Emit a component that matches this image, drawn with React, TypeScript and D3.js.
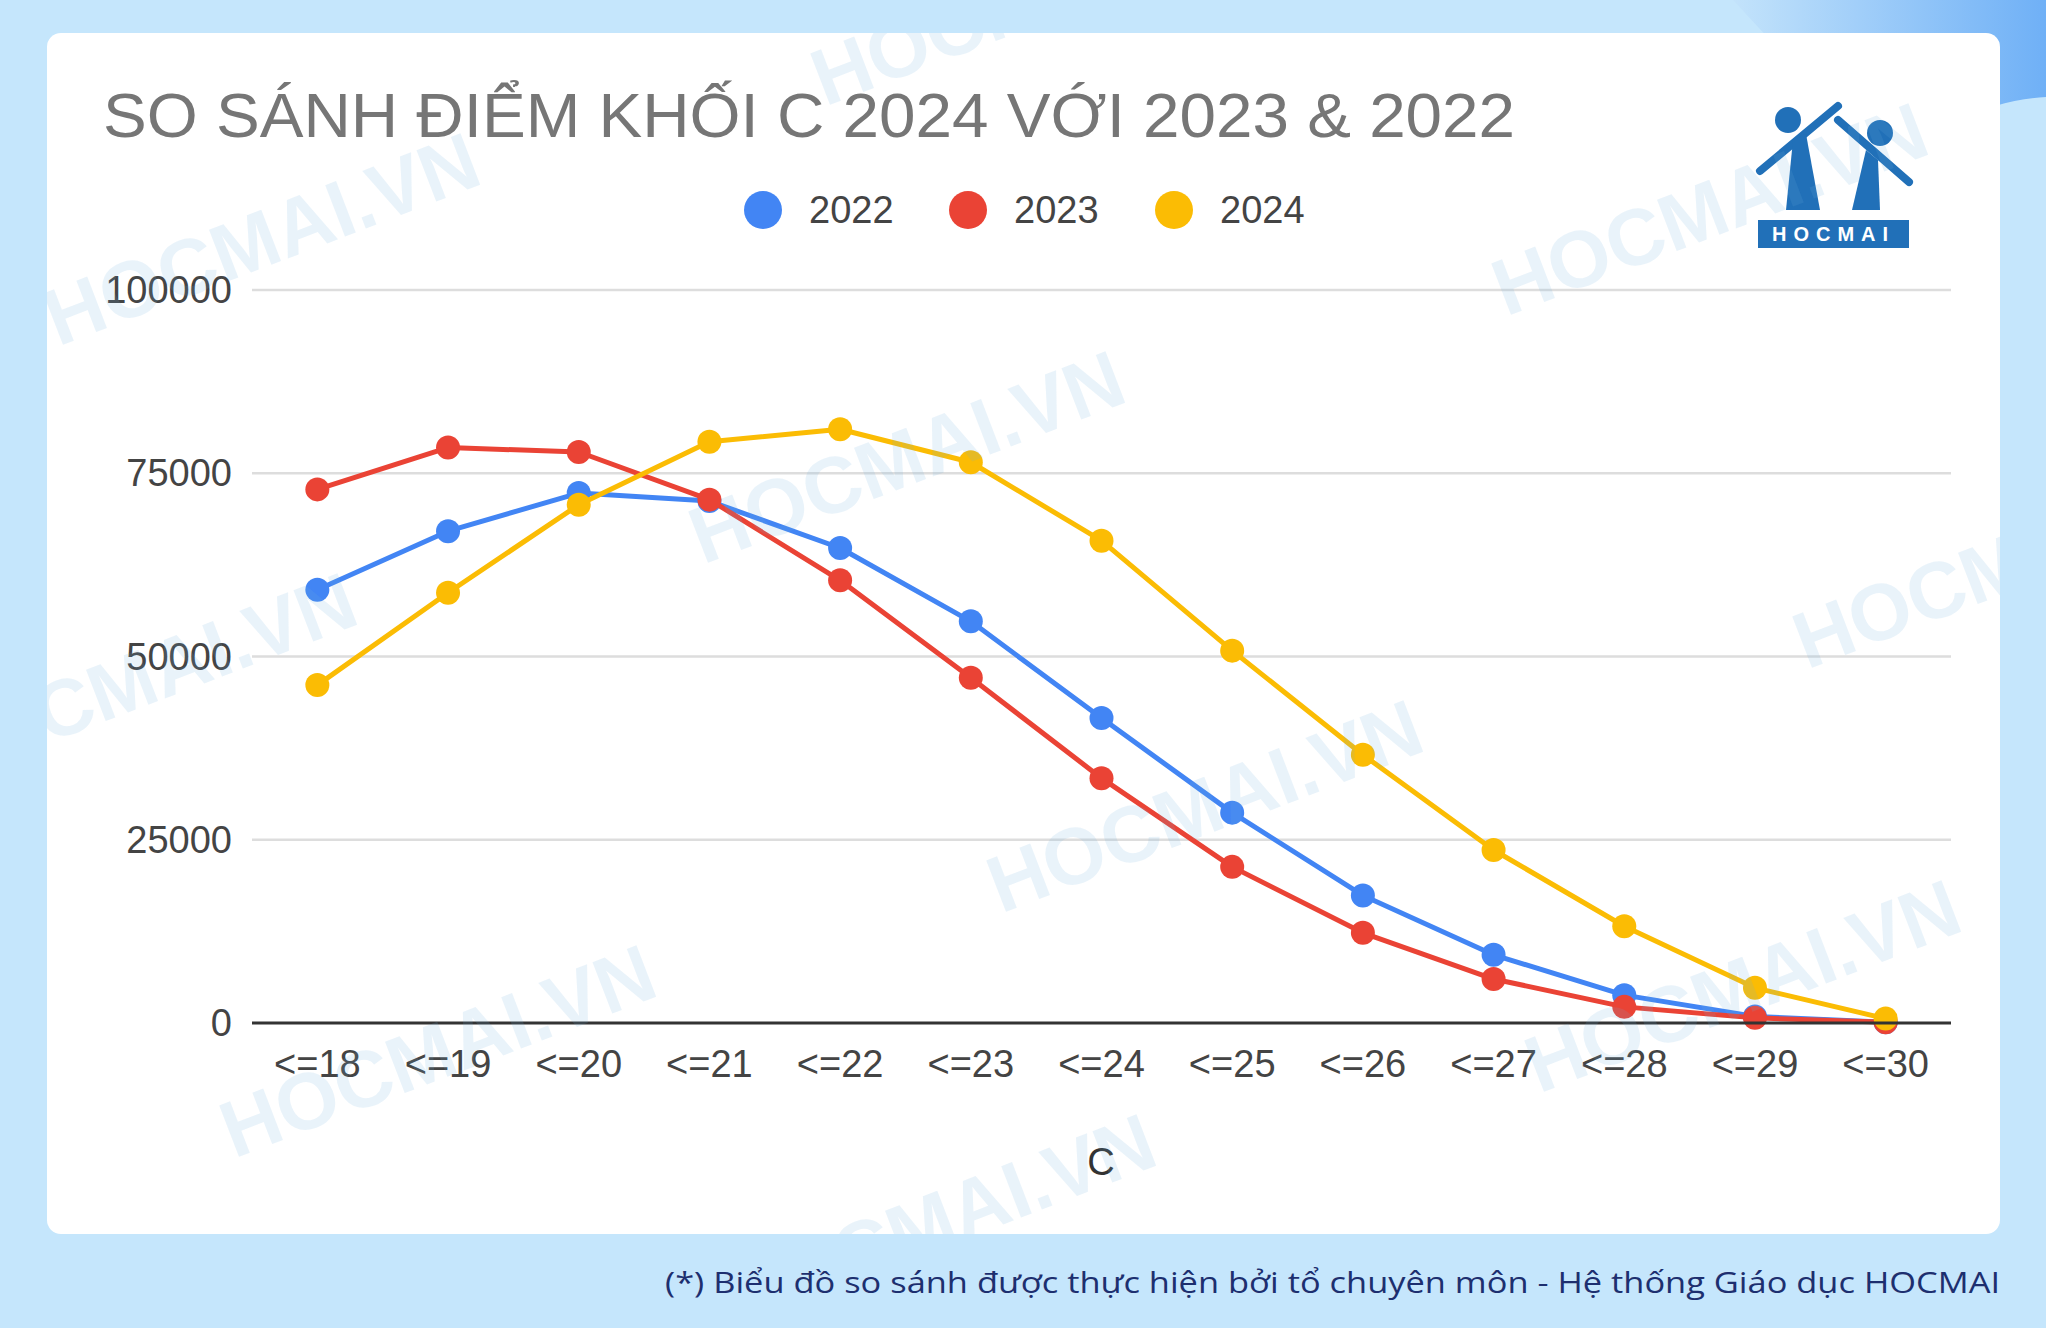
import React from "react";
import * as d3 from "d3";

const categories = ["<=18", "<=19", "<=20", "<=21", "<=22", "<=23", "<=24", "<=25", "<=26", "<=27", "<=28", "<=29", "<=30"];
const series2022 = [59100, 67100, 72300, 71200, 64800, 54800, 41600, 28700, 17400, 9300, 3800, 900, 100];
const series2023 = [72800, 78500, 77900, 71400, 60400, 47100, 33400, 21300, 12300, 6000, 2200, 700, 100];
const series2024 = [46100, 58700, 70700, 79300, 81000, 76500, 65800, 50800, 36600, 23600, 13200, 4800, 600];
const seriesNames = ["2022", "2023", "2024"];
const seriesColors = ["#4285F4", "#EA4335", "#FBBC04"];
const yTicks = [0, 25000, 50000, 75000, 100000];
const titleText = "SO SÁNH ĐIỂM KHỐI C 2024 VỚI 2023 & 2022";
const axisTitle = "C";
const footerText = "(*) Biểu đồ so sánh được thực hiện bởi tổ chuyên môn - Hệ thống Giáo dục HOCMAI";
const watermarks = [
  [264, 245], [1031, 5], [909, 463], [141, 685], [1712, 215], [2013, 568],
  [1207, 812], [440, 1057], [1745, 992], [940, 1226],
];

export default function App() {
  const W = 2046, H = 1328;
  const left = 252, right = 1951, top = 290, bottom = 1023;
  const x = d3.scalePoint<string>().domain(categories).range([left, right]).padding(0.5);
  const y = d3.scaleLinear().domain([0, 100000]).range([bottom, top]);
  const all = [series2022, series2023, series2024];
  const line = d3.line<number>().x((_, i) => x(categories[i]) as number).y((v) => y(v));
  const font = "'Liberation Sans', Arial, sans-serif";
  const card = { x: 47, y: 33, w: 1953, h: 1201 };

  return (
    <svg width={W} height={H} style={{ position: "absolute", left: 0, top: 0, display: "block" }}>
      <defs>
        <linearGradient id="cornerGrad" x1="0" x2="1" y1="0" y2="0">
          <stop offset="0" stopColor="#c3e3fb" />
          <stop offset="1" stopColor="#6fb0f6" />
        </linearGradient>
        <clipPath id="cardClip">
          <rect x={card.x} y={card.y} width={card.w} height={card.h} rx={14} />
        </clipPath>
      </defs>
      <rect x={0} y={0} width={W} height={H} fill="#c5e6fc" />
      <path d="M1733,0 L2046,0 L2046,97 C2030,98 2012,101 1995,106 L1770,40 Z" fill="url(#cornerGrad)" />
      <rect x={card.x} y={card.y} width={card.w} height={card.h} rx={14} fill="#ffffff" />

      {/* title */}
      <text x={103} y={137} fontFamily={font} fontSize={63} fill="#767676" textLength={1412} lengthAdjust="spacingAndGlyphs">
        {titleText}
      </text>

      {/* legend */}
      {seriesNames.map((n, i) => {
        const cx = [763, 968, 1174][i];
        return (
          <g key={n}>
            <circle cx={cx} cy={210} r={19} fill={seriesColors[i]} />
            <text x={cx + 46} y={223} fontFamily={font} fontSize={38} fill="#444">{n}</text>
          </g>
        );
      })}

      {/* gridlines */}
      {yTicks.map((t) => (
        <g key={t}>
          {t !== 0 && <line x1={left} x2={right} y1={y(t)} y2={y(t)} stroke="#dddddd" strokeWidth={2.5} />}
          <text x={232} y={y(t) + 13} textAnchor="end" fontFamily={font} fontSize={38} fill="#444">{t}</text>
        </g>
      ))}

      {/* series */}
      {all.map((s, si) => (
        <g key={si}>
          <path d={line(s) as string} fill="none" stroke={seriesColors[si]} strokeWidth={5} strokeLinejoin="round" />
          {s.map((v, i) => (
            <circle key={i} cx={x(categories[i])} cy={y(v)} r={12} fill={seriesColors[si]} />
          ))}
        </g>
      ))}

      {/* baseline */}
      <line x1={left} x2={right} y1={y(0)} y2={y(0)} stroke="#333" strokeWidth={3} />

      {/* x labels */}
      {categories.map((c) => (
        <text key={c} x={x(c)} y={1077} textAnchor="middle" fontFamily={font} fontSize={38} fill="#444">{c}</text>
      ))}
      <text x={1101} y={1175} textAnchor="middle" fontFamily={font} fontSize={38} fill="#333">{axisTitle}</text>

      {/* logo */}
      <g fill="#2170b8" stroke="#2170b8">
        <circle cx={1788} cy={120} r={13} stroke="none" />
        <line x1={1760} y1={171} x2={1838} y2={106} strokeWidth={8} strokeLinecap="round" />
        <path d="M1793,140 L1806,134 L1820,210 L1786,210 Z" stroke="none" />
        <circle cx={1880} cy={133} r={13} stroke="none" />
        <line x1={1838} y1={120} x2={1909} y2={182} strokeWidth={8} strokeLinecap="round" />
        <path d="M1866,150 L1878,160 L1880,210 L1852,210 Z" stroke="none" />
        <rect x={1758} y={220} width={151} height={28} stroke="none" />
      </g>
      <text x={1833.5} y={241} textAnchor="middle" fontFamily={font} fontWeight="bold" fontSize={20} fill="#fff" letterSpacing={7}>HOCMAI</text>

      {/* watermarks */}
      <g clipPath="url(#cardClip)">
        {watermarks.map(([wx, wy], i) => (
          <text key={i} x={wx} y={wy} transform={`rotate(-21 ${wx} ${wy})`} textAnchor="middle" dominantBaseline="middle"
            fontFamily={font} fontWeight="bold" fontSize={80} fill="#6aaedf" fillOpacity={0.15}>HOCMAI.VN</text>
        ))}
      </g>

      {/* footer */}
      <text x={2000} y={1293} textAnchor="end" fontFamily="'Open Sans', 'Noto Sans', sans-serif" fontSize={30} fill="#1d2f6f"
        textLength={1335} lengthAdjust="spacingAndGlyphs">{footerText}</text>
    </svg>
  );
}
